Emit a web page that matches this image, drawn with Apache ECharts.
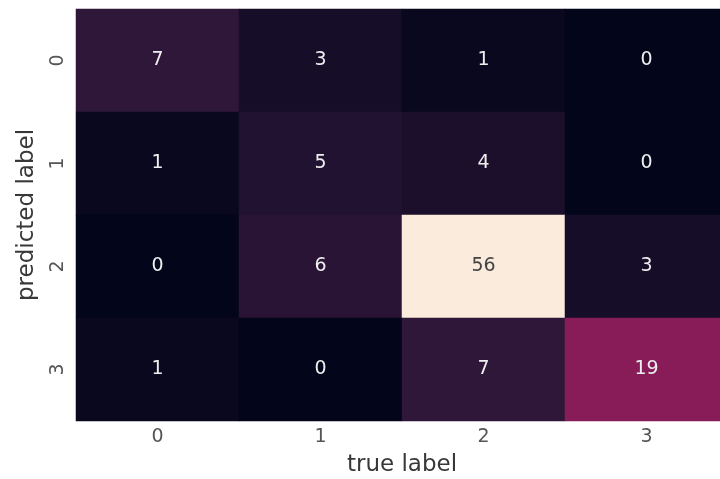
<!DOCTYPE html>
<html>
<head>
<meta charset="utf-8">
<script src="https://cdn.jsdelivr.net/npm/echarts@6/dist/echarts.min.js"></script>
<style>
html,body{margin:0;padding:0;background:#fff;}
#chart{width:720px;height:479px;}
</style>
</head>
<body>
<div id="chart"></div>
<script>
const trueLabels = ['0', '1', '2', '3'];
const predictedLabels = ['0', '1', '2', '3'];
const row0 = [7, 3, 1, 0];
const row1 = [1, 5, 4, 0];
const row2 = [0, 6, 56, 3];
const row3 = [1, 0, 7, 19];
const matrix = [row0, row1, row2, row3];

const rocket = ['#03051a', '#35193e', '#701f57', '#ad1759', '#e13342', '#f37651', '#f6b48f', '#faebdd'];

const maxVal = Math.max(...matrix.flat());
const data = [];
matrix.forEach((row, r) => {
  row.forEach((v, c) => {
    data.push({
      value: [c, r, v],
      label: { color: v > maxVal * 0.6 ? '#444444' : '#eeeeee' }
    });
  });
});

const chart = echarts.init(document.getElementById('chart'), null, { renderer: 'canvas' });
chart.setOption({
  backgroundColor: '#ffffff',
  animation: false,
  grid: { left: 76, top: 9, width: 652, height: 412, containLabel: false, outerBoundsMode: 'none' },
  xAxis: {
    type: 'category',
    data: trueLabels,
    name: 'true label',
    nameLocation: 'middle',
    nameGap: 33,
    nameTextStyle: { fontFamily: 'DejaVu Sans', fontSize: 23, color: '#383838' },
    axisLine: { show: false },
    axisTick: { show: false },
    splitArea: { show: false },
    axisLabel: { fontFamily: 'DejaVu Sans', fontSize: 19, color: '#555555', margin: 7 }
  },
  yAxis: {
    type: 'category',
    data: predictedLabels,
    inverse: true,
    name: 'predicted label',
    nameLocation: 'middle',
    nameGap: 37,
    nameRotate: 90,
    nameTextStyle: { fontFamily: 'DejaVu Sans', fontSize: 23, color: '#383838' },
    axisLine: { show: false },
    axisTick: { show: false },
    axisLabel: { fontFamily: 'DejaVu Sans', fontSize: 19, color: '#555555', rotate: 90, margin: 8 }
  },
  visualMap: {
    show: false,
    min: 0,
    max: maxVal,
    dimension: 2,
    inRange: { color: rocket }
  },
  series: [{
    type: 'heatmap',
    data: data,
    itemStyle: { borderWidth: 0 },
    label: {
      show: true,
      fontFamily: 'DejaVu Sans',
      fontSize: 19,
      formatter: p => String(p.value[2])
    },
    emphasis: { disabled: true }
  }]
});
</script>
</body>
</html>
